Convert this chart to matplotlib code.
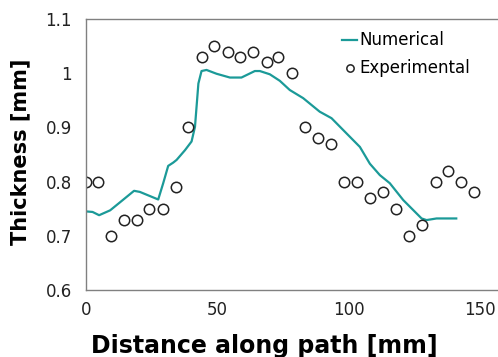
import matplotlib

matplotlib.use("Agg")
import matplotlib.pyplot as plt

# Experimental measurements
exp_x = [0, 4.5, 9.5, 14.5, 19.3, 24.1, 29.2, 34.1, 39, 44, 48.8, 54, 58.6, 63.6,
         68.8, 73.1, 78.6, 83.3, 88.4, 93.2, 98.2, 103.3, 108.1, 113.2, 118, 123,
         128, 133.1, 137.9, 142.7, 147.8]
exp_y = [0.80, 0.80, 0.70, 0.73, 0.73, 0.75, 0.75, 0.79, 0.90, 1.03, 1.05, 1.04,
         1.03, 1.04, 1.02, 1.03, 1.00, 0.90, 0.88, 0.87, 0.80, 0.80, 0.77, 0.78,
         0.75, 0.70, 0.72, 0.80, 0.82, 0.80, 0.78]

# Numerical result
num_x = [0, 2.5, 5, 9.2, 13, 18.3, 20.5, 24, 27.5, 29.4, 31.3, 33.2, 34.5, 37.7,
         40.2, 41.5, 42.8, 44.0, 45.9, 49.7, 54.8, 59.2, 64.3, 66.2, 70.0, 73.8,
         77.6, 82.7, 89.0, 93.5, 99.2, 104.3, 108.1, 111.9, 115.7, 120.8, 127.8,
         129.7, 133.5, 141]
num_y = [0.745, 0.744, 0.738, 0.747, 0.762, 0.783, 0.781, 0.774, 0.767, 0.797,
         0.829, 0.835, 0.840, 0.858, 0.874, 0.901, 0.981, 1.004, 1.006, 0.999,
         0.992, 0.992, 1.004, 1.004, 0.998, 0.986, 0.969, 0.954, 0.929, 0.917,
         0.889, 0.864, 0.833, 0.812, 0.797, 0.766, 0.732, 0.729, 0.732, 0.732]

y_ticks = [0.6, 0.7, 0.8, 0.9, 1.0, 1.1]
y_tick_labels = ["0.6", "0.7", "0.8", "0.9", "1", "1.1"]
x_ticks = [0, 50, 100, 150]

plt.rcParams["font.family"] = ["DejaVu Sans"]

fig = plt.figure(figsize=(4.98, 3.57), dpi=100)
ax = fig.add_axes([86 / 498, 67 / 357, 412 / 498, 271 / 357])

ax.plot(num_x, num_y, color="#1b9a98", lw=1.6, label="Numerical")
ax.plot(exp_x, exp_y, ls="none", marker="o", ms=7.5, mfc="white", mec="#222222",
        mew=1.1, label="Experimental")

ax.set_xlim(0, 156.9)
ax.set_ylim(0.6, 1.1)
ax.set_xticks(x_ticks)
ax.set_yticks(y_ticks)
ax.set_yticklabels(y_tick_labels)
ax.tick_params(length=0, labelsize=12, colors="#222222")
ax.tick_params(axis="y", pad=10)
ax.tick_params(axis="x", pad=8)

for side in ["left", "bottom", "top"]:
    ax.spines[side].set_color("#808080")
    ax.spines[side].set_linewidth(1.0)
ax.spines["right"].set_visible(False)

ax.set_xlabel("Distance along path [mm]", fontsize=17, fontweight="bold")
ax.set_ylabel("Thickness [mm]", fontsize=15, fontweight="bold")
ax.xaxis.set_label_coords(0.433, -0.163)
ax.yaxis.set_label_coords(-0.135, 0.509)

ax.legend(loc="upper right", bbox_to_anchor=(0.963, 1.0), frameon=False,
          fontsize=12, handlelength=0.9, handletextpad=0.15, markerscale=0.7,
          labelspacing=0.6, borderaxespad=0.35)

fig.savefig("out.png", dpi=100)
